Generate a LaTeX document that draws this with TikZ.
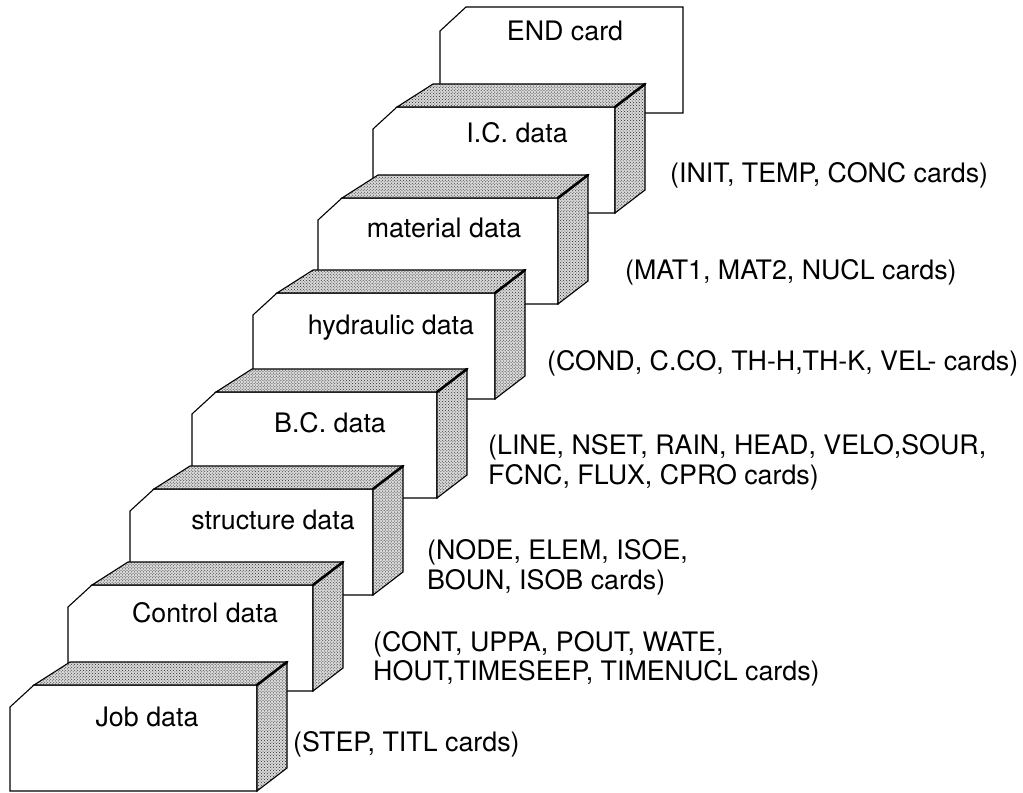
\documentclass[tikz,border=0pt]{standalone}
\usepackage{fontspec}
\setmainfont{TeX Gyre Heros}
\usetikzlibrary{patterns}

% one deck of cards: #1 = left x, #2 = top y of the front face, #3 = right x
\newcommand\carddeck[3]{%
  \path[frontface] (#1,#2+22) -- (#1+24,#2) -- (#3,#2) -- (#3,#2+106) -- (#1,#2+106) -- cycle;
  \path[sideface] (#1+24,#2) -- (#1+60,#2-23) -- (#3+30,#2-23) -- (#3,#2) -- cycle;
  \path[sideface] (#3,#2) -- (#3+30,#2-23) -- (#3+30,#2+83) -- (#3,#2+106) -- cycle;
  \draw[ridge] (#3,#2) -- (#3+30,#2-23);
}

\tikzset{
  frontface/.style={draw=black, line width=1.1bp, fill=white, line join=miter},
  sideface/.style={draw=black, line width=1.1bp, line join=miter,
    preaction={fill=black!15}, pattern=crosshatch dots, pattern color=black!85},
  ridge/.style={draw=black, line width=2.6bp, line cap=round},
  cardtext/.style={font=\fontsize{26.8bp}{31bp}\selectfont, inner sep=0pt, anchor=base},
  listtext/.style={font=\fontsize{26.8bp}{31bp}\selectfont, inner sep=0pt, anchor=base west},
}

\begin{document}
\begin{tikzpicture}[x=1bp, y=-1bp]
  \useasboundingbox (0,0) rectangle (1023,793);

  % END card (a single card, no thickness)
  \path[frontface] (440,31) -- (466,7) -- (683,7) -- (683,113) -- (440,113) -- cycle;
  \node[cardtext] (endcard) at (565,41) {END card};

  % I.C. data
  \carddeck{373}{107}{615}
  \node[cardtext] (icdata) at (517,142) {I.C. data};
  \node[listtext] (iclist) at (670,182) {(INIT, TEMP, CONC cards)};

  % material data
  \carddeck{318}{198}{558}
  \node[cardtext] (matdata) at (444,237) {material data};
  \node[listtext] (matlist) at (625,279) {(MAT1, MAT2, NUCL cards)};

  % hydraulic data
  \carddeck{253}{293}{495}
  \node[cardtext] (hyddata) at (391,334) {hydraulic data};
  \node[listtext] (hydlist) at (547,370) {(COND, C.CO, TH-H,TH-K, VEL- cards)};

  % B.C. data
  \carddeck{192}{392}{437}
  \node[cardtext] (bcdata) at (330,432) {B.C. data};
  \node[listtext] (bclistA) at (488,454) {(LINE, NSET, RAIN, HEAD, VELO,SOUR,};
  \node[listtext] (bclistB) at (488,484) {FCNC, FLUX, CPRO cards)};

  % structure data
  \carddeck{130}{489}{373}
  \node[cardtext] (strdata) at (273,529) {structure data};
  \node[listtext] (strlistA) at (427,559) {(NODE, ELEM, ISOE,};
  \node[listtext] (strlistB) at (427,589) {BOUN, ISOB cards)};

  % Control data
  \carddeck{68}{585}{313}
  \node[cardtext] (ctldata) at (205,622) {Control data};
  \node[listtext] (ctllistA) at (373,651) {(CONT, UPPA, POUT, WATE,};
  \node[listtext] (ctllistB) at (373,680) {HOUT,TIMESEEP, TIMENUCL cards)};

  % Job data
  \carddeck{10}{685}{257}
  \node[cardtext] (jobdata) at (147,726) {Job data};
  \node[listtext] (joblist) at (293,751) {(STEP, TITL cards)};
\end{tikzpicture}
\end{document}
